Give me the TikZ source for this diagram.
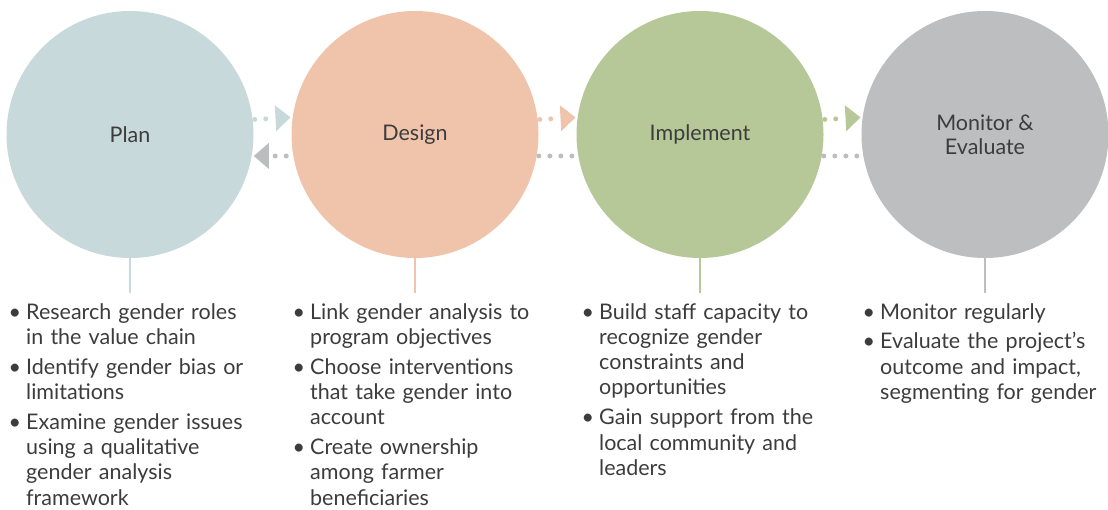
\documentclass[tikz,border=0pt]{standalone}
\usepackage{fontspec}
\setmainfont{Lato}
\usetikzlibrary{arrows.meta,backgrounds}
\definecolor{cplan}{HTML}{C8D9DB}
\definecolor{cdesign}{HTML}{F0C4AB}
\definecolor{cimpl}{HTML}{B7C898}
\definecolor{cmon}{HTML}{BDBEC0}
\definecolor{cback}{HTML}{BCBDBF}
\definecolor{ctext}{HTML}{3C3C3C}
\newcommand{\bitem}[1]{\noindent\llap{\textbullet\hspace{5pt}}#1\par}
\newcommand{\bgap}{\vspace{4.5pt}}
\begin{document}
\begin{tikzpicture}[x=1pt,y=-1pt,
  stage/.style={circle, minimum size=247pt, inner sep=0pt, text=ctext,
    font=\fontsize{21.5}{24}\selectfont, align=center},
  stem/.style={line width=2.5pt},
  dots/.style={line width=5pt, dash pattern=on 0pt off 11pt, line cap=round},
  tri/.style={dots, -{Triangle[length=15pt,width=26pt,line width=0pt]}, shorten >=2pt},
  list/.style={anchor=north west, inner sep=0pt, text width=280pt, align=left,
    text=ctext, font=\fontsize{21.5}{25.3}\selectfont}
]
\useasboundingbox (0,0) rectangle (1108,510);

\node[stage, fill=cplan]   (plan)   at (130,134.5) {Plan};
\node[stage, fill=cdesign] (design) at (415,134.5) {Design};
\node[stage, fill=cimpl]   (impl)   at (700,134.5) {Implement};
\node[stage, fill=cmon]    (mon)    at (985,134.5) {Monitor \&\\Evaluate};

\begin{pgfonlayer}{background}
  % forward arrows (top row)
  \draw[tri, cplan]   ([xshift=2pt]plan.7.6)   -- (design.172.4);
  \draw[tri, cdesign] ([xshift=2pt]design.7.6) -- (impl.172.4);
  \draw[tri, cimpl]   ([xshift=2pt]impl.7.6)   -- (mon.172.4);
  % backward row
  \draw[tri, cback]   ([xshift=-7pt]design.190) -- (plan.350);
  \draw[dots, cback]  ([xshift=2pt]design.350) -- (impl.190);
  \draw[dots, cback]  ([xshift=2pt]impl.350)   -- (mon.190);
\end{pgfonlayer}

\coordinate (plan-s)   at (130,293);
\coordinate (design-s) at (415,293);
\coordinate (impl-s)   at (700,293);
\coordinate (mon-s)    at (985,293);
\draw[stem, cplan]   (plan.south)   -- (plan-s);
\draw[stem, cdesign] (design.south) -- (design-s);
\draw[stem, cimpl]   (impl.south)   -- (impl-s);
\draw[stem, cmon]    (mon.south)    -- (mon-s);

\node[list] (plan-list) at (26,303) {%
\bitem{Research gender roles\\in the value chain}\bgap
\bitem{Identify gender bias or\\limitations}\bgap
\bitem{Examine gender issues\\using a qualitative\\gender analysis\\framework}};

\node[list] (design-list) at (310,303) {%
\bitem{Link gender analysis to\\program objectives}\bgap
\bitem{Choose interventions\\that take gender into\\account}\bgap
\bitem{Create ownership\\among farmer\\beneficiaries}};

\node[list] (impl-list) at (599,303) {%
\bitem{Build staff capacity to\\recognize gender\\constraints and\\opportunities}\bgap
\bitem{Gain support from the\\local community and\\leaders}};

\node[list] (mon-list) at (880,303) {%
\bitem{Monitor regularly}\bgap
\bitem{Evaluate the project’s\\outcome and impact,\\segmenting for gender}};
\end{tikzpicture}
\end{document}
